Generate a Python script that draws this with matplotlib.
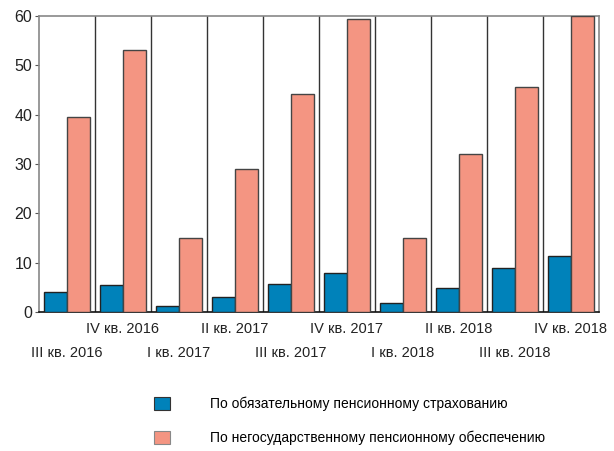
import matplotlib
matplotlib.use("Agg")
import matplotlib.pyplot as plt
from matplotlib.patches import Patch
import matplotlib.transforms as mtransforms

plt.rcParams['font.family'] = ['Liberation Sans', 'DejaVu Sans']

categories = ["III кв. 2016", "IV кв. 2016", "I кв. 2017", "II кв. 2017", "III кв. 2017",
              "IV кв. 2017", "I кв. 2018", "II кв. 2018", "III кв. 2018", "IV кв. 2018"]
ops = [4.1, 5.5, 1.2, 3.0, 5.7, 8.0, 1.9, 4.8, 9.0, 11.4]
npo = [39.6, 53.2, 15.0, 28.9, 44.2, 59.4, 15.0, 32.0, 45.6, 60.0]
series_names = ["По обязательному пенсионному страхованию",
                "По негосударственному пенсионному обеспечению"]
yticks = [0, 10, 20, 30, 40, 50, 60]

blue = "#0082BA"
pink = "#F49582"

fig = plt.figure(figsize=(6.14, 4.51), dpi=100)
ax = fig.add_axes([39/614, 1-312/451, 560/614, 296/451])

x = list(range(len(categories)))
w = 0.41
ax.bar([i - w/2 for i in x], ops, width=w, color=blue, edgecolor="#222222", linewidth=1.0, zorder=3)
ax.bar([i + w/2 for i in x], npo, width=w, color=pink, edgecolor="#444444", linewidth=1.0, zorder=3)

ax.set_xlim(-0.5, len(categories) - 0.5)
ax.set_ylim(0, 60)
for b in range(1, len(categories)):
    ax.axvline(b - 0.5, color="#333333", linewidth=1.0, zorder=1)

for s in ["top", "right", "left"]:
    ax.spines[s].set_color("#888888")
    ax.spines[s].set_linewidth(1.2)
ax.spines["bottom"].set_color("#111111")
ax.spines["bottom"].set_linewidth(1.2)

ax.set_yticks(yticks)
ax.set_yticklabels([str(v) for v in yticks], fontsize=11.5, color="#222222")
ax.tick_params(axis='y', length=3, width=0.8, color="#555555", pad=2)
ax.set_xticks([])

trans = mtransforms.blended_transform_factory(ax.transData, ax.transAxes)
for i, lab in enumerate(categories):
    yy = -17/296 if i % 2 == 1 else -41/296
    ax.text(i, yy, lab, transform=trans, ha="center", va="center", fontsize=10.5, color="#222222")

handles = [Patch(facecolor=blue, edgecolor="#333333", linewidth=0.8),
           Patch(facecolor=pink, edgecolor="#888888", linewidth=0.8)]
fig.legend(handles, series_names, loc="upper left", bbox_to_anchor=(148/614, 1-391/451),
           frameon=False, fontsize=10, handlelength=1.15, handleheight=1.15,
           handletextpad=2.9, labelspacing=1.4, borderaxespad=0)

fig.savefig("out.png", dpi=100)
